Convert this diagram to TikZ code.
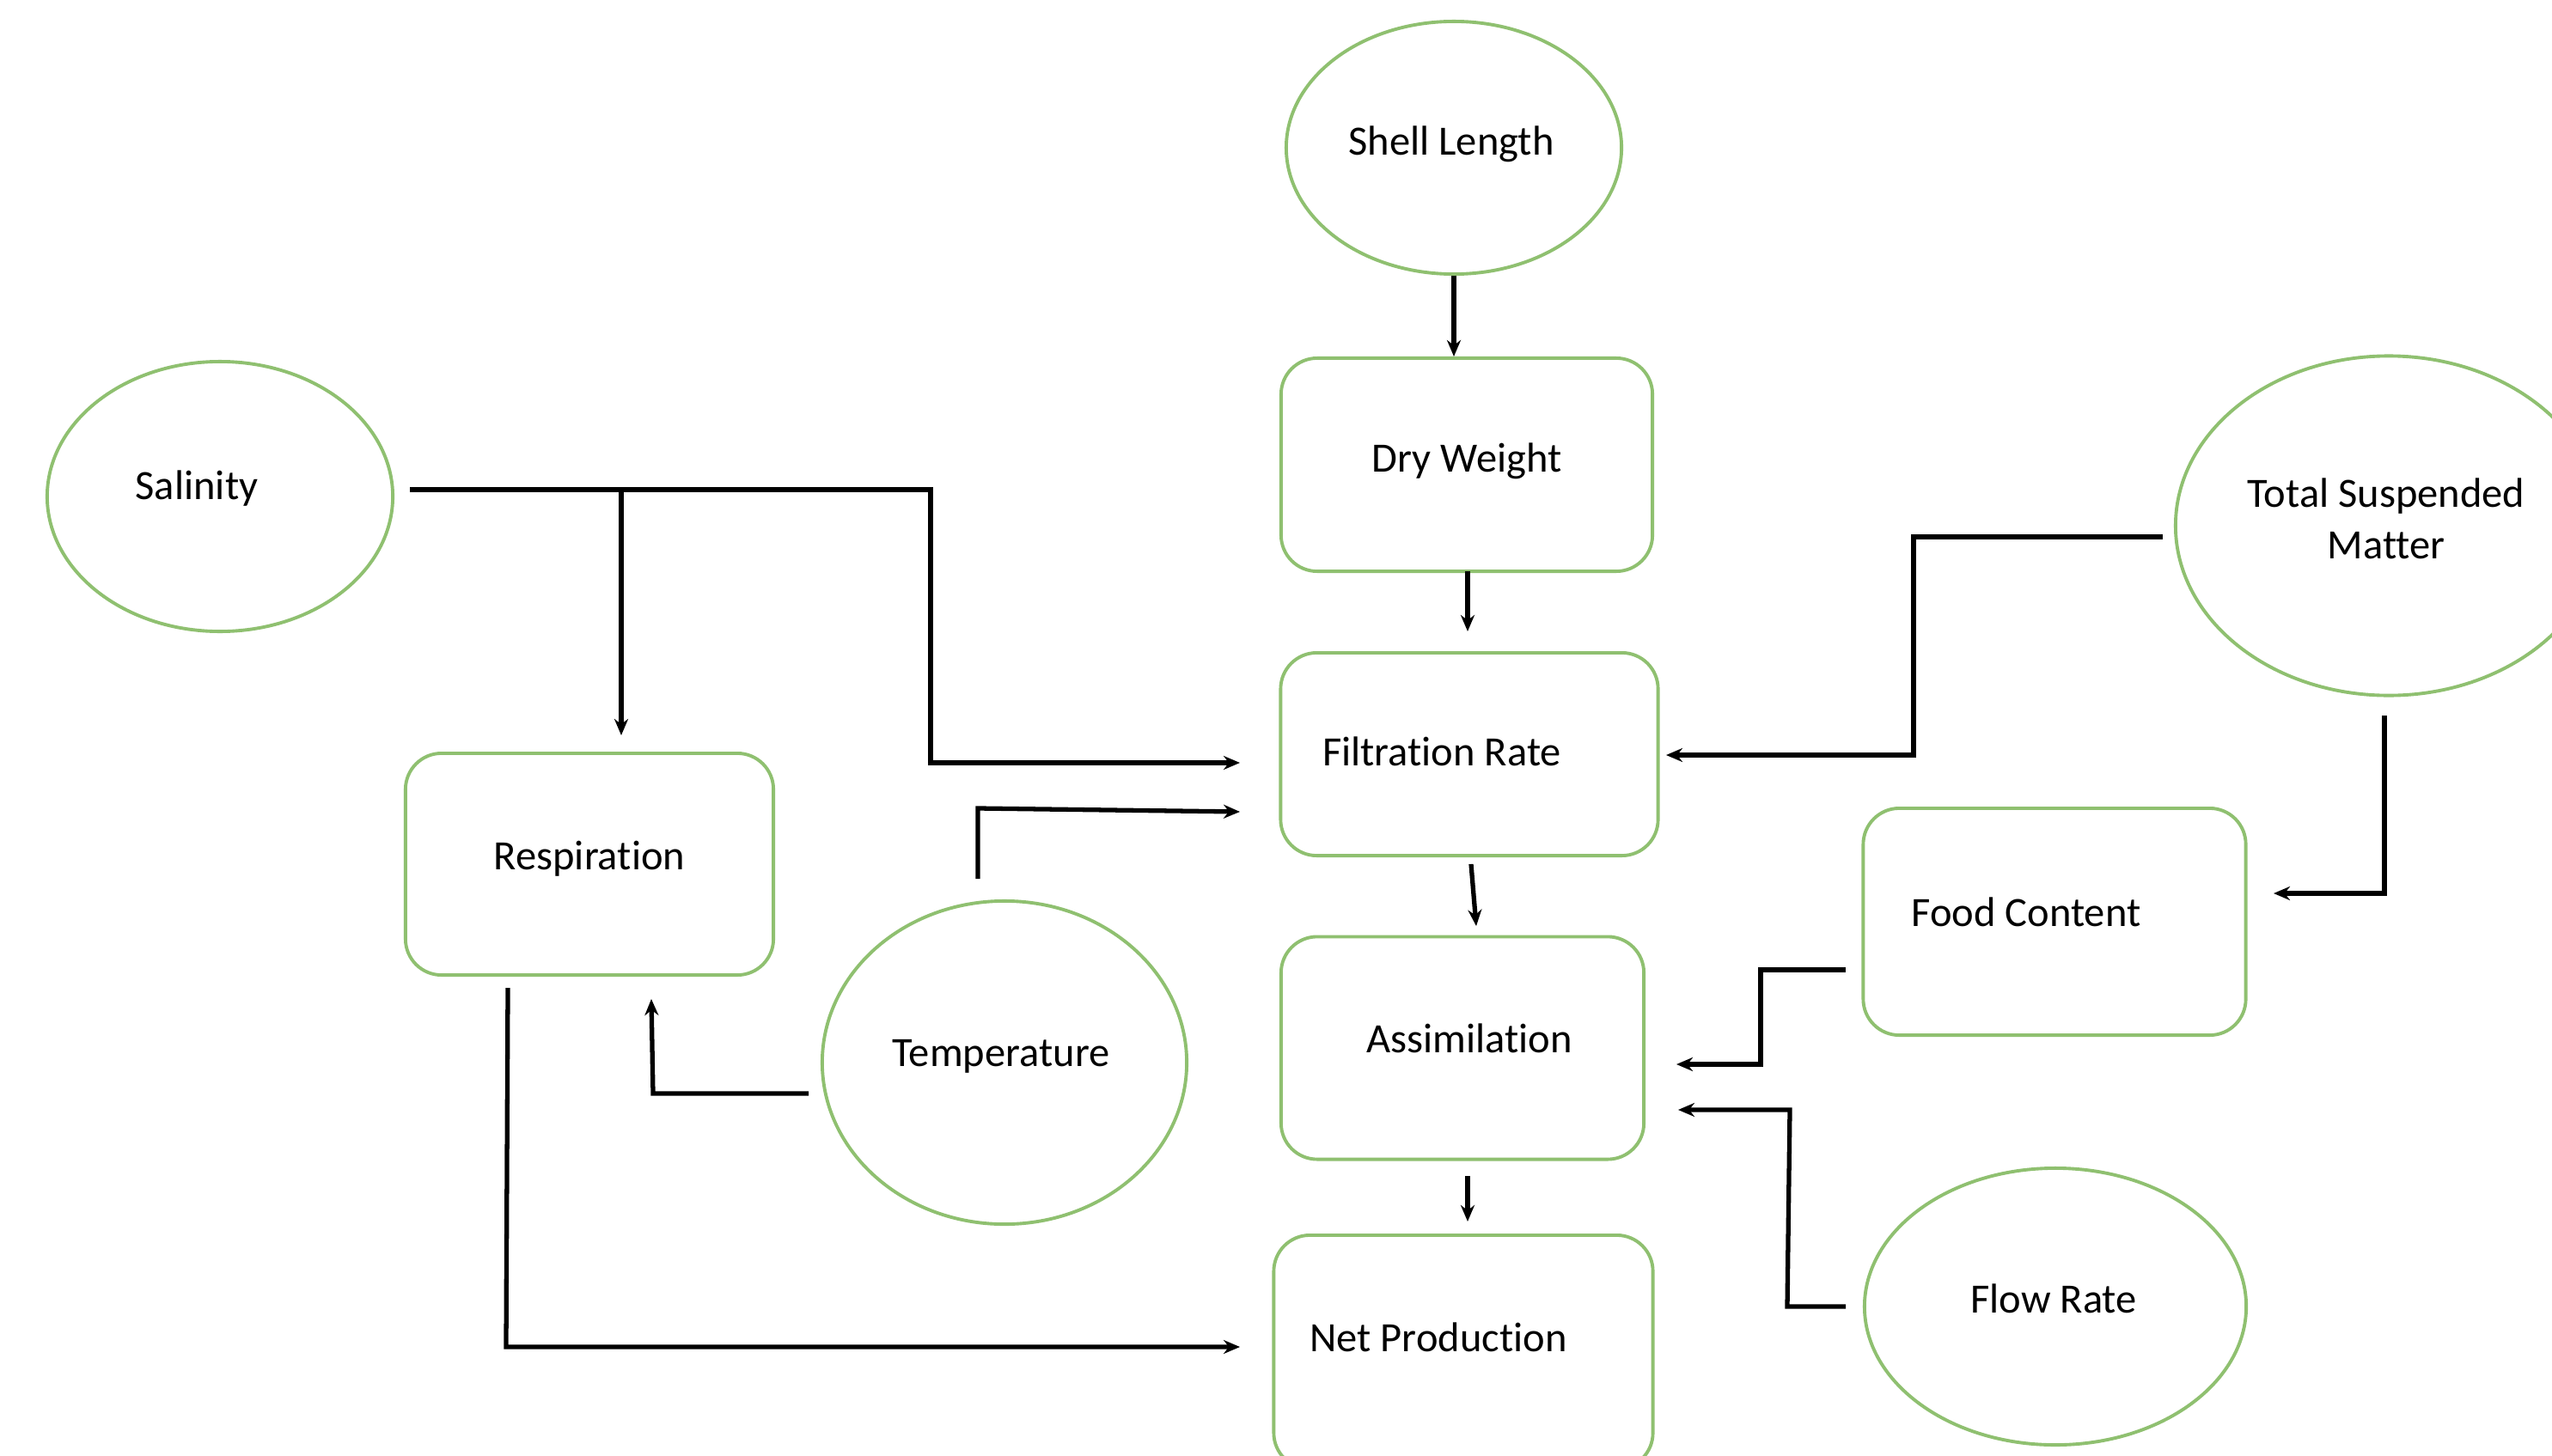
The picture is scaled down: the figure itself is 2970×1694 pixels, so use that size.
\documentclass[tikz,border=0pt]{standalone}
\usepackage{fontspec}
\setmainfont{Carlito}[Ligatures={NoCommon}]
\usetikzlibrary{arrows.meta,shapes.geometric,calc}
\definecolor{boxgreen}{RGB}{143,192,112}
\tikzset{
  oval/.style={ellipse, draw=boxgreen, line width=1.1pt, inner sep=0pt},
  rbox/.style={draw=boxgreen, line width=1.1pt, rounded corners=0.42cm, inner sep=0pt},
  lbl/.style={font=\fontsize{13.8}{17}\selectfont, inner sep=0pt, align=center},
  conn/.style={draw=black, line width=1.5pt, -{Stealth[length=0.19cm,width=0.16cm]}},
}
\begin{document}
\begin{tikzpicture}[x=0.01cm,y=-0.01cm]
\clip (0,0) rectangle (2970,1694);
\fill[white] (0,0) rectangle (2970,1694);

% ellipses
\node[oval, minimum width=3.9cm, minimum height=2.94cm] (shell) at (1692,172) {};
\node[lbl] (shellT) at (1689,168) {Shell Length};
\node[oval, minimum width=4.02cm, minimum height=3.14cm] (sal) at (256,578) {};
\node[lbl] (salT) at (229,569) {Salinity};
\node[oval, minimum width=4.24cm, minimum height=3.76cm] (temp) at (1169,1237) {};
\node[lbl] (tempT) at (1165,1230) {Temperature};
\node[oval, minimum width=4.96cm, minimum height=3.95cm] (tsm) at (2780,612) {};
\node[lbl] (tsmT) at (2777,604) {Total Suspended\\Matter};
\node[oval, minimum width=4.44cm, minimum height=3.22cm] (flow) at (2392,1521) {};
\node[lbl] (flowT) at (2390,1512) {Flow Rate};

% boxes
\node[rbox, minimum width=4.32cm, minimum height=2.48cm] (dry) at (1707,541) {};
\node[lbl] (dryT) at (1707,537) {Dry Weight};
\node[rbox, minimum width=4.39cm, minimum height=2.36cm] (filt) at (1710,878) {};
\node[lbl] (filtT) at (1678,875) {Filtration Rate};
\node[rbox, minimum width=4.22cm, minimum height=2.59cm] (assim) at (1702,1220) {};
\node[lbl] (assimT) at (1710,1209) {Assimilation};
\node[rbox, minimum width=4.41cm, minimum height=2.72cm] (net) at (1703,1574) {};
\node[lbl] (netT) at (1674,1557) {Net Production};
\node[rbox, minimum width=4.28cm, minimum height=2.58cm] (resp) at (686,1006) {};
\node[lbl] (respT) at (686,1000) {Respiration};
\node[rbox, minimum width=4.45cm, minimum height=2.64cm] (food) at (2391,1073) {};
\node[lbl] (foodT) at (2358,1062) {Food Content};

% connector coordinates
\coordinate (salOut) at (477,570);
\coordinate (salB1) at (723,570);
\coordinate (salB2) at (1083,570);
\coordinate (salB3) at (1083,888);
\coordinate (filtIn1) at (1443,888);
\coordinate (respIn) at (723,856);
\coordinate (tempOut1) at (1138,1023);
\coordinate (tempB1) at (1138,941);
\coordinate (filtIn2) at (1443,945);
\coordinate (tempOut2) at (941,1273);
\coordinate (tempB2) at (760,1273);
\coordinate (respIn2) at (758,1163);
\coordinate (respOut) at (591,1150);
\coordinate (respB) at (589,1568);
\coordinate (netIn) at (1443,1568);
\coordinate (tsmOut1) at (2517,625);
\coordinate (tsmB1) at (2227,625);
\coordinate (tsmB2) at (2227,879);
\coordinate (filtIn3) at (1939,879);
\coordinate (tsmOut2) at (2775,833);
\coordinate (tsmB3) at (2775,1040);
\coordinate (foodIn) at (2646,1040);
\coordinate (foodOut) at (2148,1129);
\coordinate (foodB1) at (2049,1129);
\coordinate (foodB2) at (2049,1239);
\coordinate (assimIn1) at (1951,1239);
\coordinate (flowOut) at (2148,1521);
\coordinate (flowB1) at (2080,1521);
\coordinate (flowB2) at (2083,1292);
\coordinate (assimIn2) at (1953,1292);
\coordinate (dryOut) at (1708,665);
\coordinate (filtTop) at (1708,735);
\coordinate (filtOut) at (1712,1006);
\coordinate (assimTop) at (1718,1078);
\coordinate (assimOut) at (1708,1369);
\coordinate (netTop) at (1708,1422);

% connectors
\draw[conn] (shell.south) -- (shell.south |- dry.north);
\draw[conn] (dryOut) -- (filtTop);
\draw[conn] (filtOut) -- (assimTop);
\draw[conn] (assimOut) -- (netTop);
\draw[conn] (salOut) -- (salB2) -- (salB3) -- (filtIn1);
\draw[conn] (salB1) -- (respIn);
\draw[conn] (tempOut1) -- (tempB1) -- (filtIn2);
\draw[conn] (tempOut2) -- (tempB2) -- (respIn2);
\draw[conn] (respOut) -- (respB) -- (netIn);
\draw[conn] (tsmOut1) -- (tsmB1) -- (tsmB2) -- (filtIn3);
\draw[conn] (tsmOut2) -- (tsmB3) -- (foodIn);
\draw[conn] (foodOut) -- (foodB1) -- (foodB2) -- (assimIn1);
\draw[conn] (flowOut) -- (flowB1) -- (flowB2) -- (assimIn2);
\end{tikzpicture}
\end{document}
